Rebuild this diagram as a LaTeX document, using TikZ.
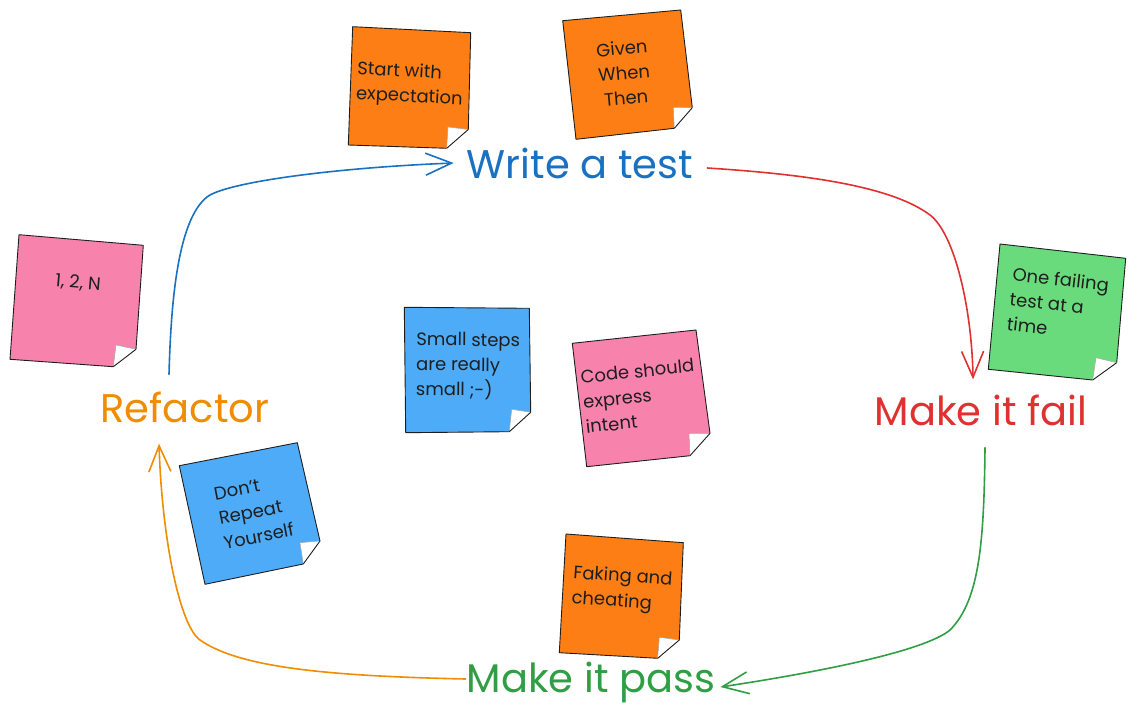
\documentclass[tikz,border=0pt]{standalone}
\usepackage{fontspec}
\setmainfont{Poppins}
\usetikzlibrary{arrows.meta}
\definecolor{cblue}{HTML}{1971C2}
\definecolor{cred}{HTML}{E03131}
\definecolor{cgreen}{HTML}{2F9E44}
\definecolor{corange}{HTML}{F08C00}
\definecolor{ink}{HTML}{1E1E1E}
\definecolor{nOrange}{HTML}{FD7E14}
\definecolor{nPink}{HTML}{F783AC}
\definecolor{nGreen}{HTML}{69DB7C}
\definecolor{nBlue}{HTML}{4DABF7}
\newcommand\stickynote[7]{%
  \fill[#1] #2 -- #3 -- #4 -- #6 -- #7 -- cycle;
  \draw[noteedge] #4 -- #3 -- #2 -- #7 -- #6;
  \fill[white] #4 -- #5 -- #6 -- cycle;
  \draw[foldedge] #4 -- #5 -- #6;
  \draw[noteedge] #4 -- #6;
}
\begin{document}
\begin{tikzpicture}[x=1pt,y=-1pt,
  noteedge/.style={draw=ink,line width=0.9pt,line join=round},
  foldedge/.style={draw=gray!70,line width=0.5pt},
  notetext/.style={text=ink,font=\fontsize{18}{25}\selectfont,inner sep=0pt},
  lbl/.style={font=\fontsize{40}{46}\selectfont,inner sep=0pt},
  flow/.style={line width=1.6pt,line cap=round,line join=round,
    -{Straight Barb[length=26pt,width=22pt,line width=1.6pt]}}]
\useasboundingbox (0,0) rectangle (1135,714);

% sticky notes
\stickynote{nOrange}{(352.7,26.7)}{(470.7,32.7)}{(468.3,129.5)}{(448,127)}{(446.7,148.3)}{(348.3,145)}
\stickynote{nOrange}{(562.7,20.7)}{(680.7,10)}{(692.3,107.7)}{(673.3,107.3)}{(674.3,128.3)}{(576,139.3)}
\stickynote{nPink}{(19,234.7)}{(143.3,245.3)}{(136,349.3)}{(116,345)}{(113.3,366.7)}{(10,359.3)}
\stickynote{nBlue}{(179.3,465.7)}{(297.3,442.7)}{(320,541)}{(300,542.7)}{(303.3,564)}{(205,584.3)}
\stickynote{nGreen}{(1000,244)}{(1125.7,258.3)}{(1116.7,362.7)}{(1096,357.7)}{(1092.7,380)}{(988.3,369.3)}
\stickynote{nBlue}{(404.3,307.3)}{(529.3,308.3)}{(530.7,412.3)}{(511.7,409.3)}{(509.3,431.7)}{(405.7,432.7)}
\stickynote{nPink}{(572.3,343.3)}{(696,330)}{(710,433.3)}{(689,433.3)}{(690,455.7)}{(586.7,466.7)}
\stickynote{nOrange}{(566,534)}{(683.3,542.7)}{(679.3,640)}{(659.3,637.3)}{(657.7,658.3)}{(559.3,652.7)}

% note texts
\node[notetext,align=left,rotate=-3] (t1) at (410,85) {Start with\\expectation};
\node[notetext,align=center,rotate=5] (t2) at (624,73) {Given\\When\\Then};
\node[notetext,rotate=-5] (t3) at (78,283) {1, 2, N};
\node[notetext,align=left,rotate=11] (t4) at (254,512) {Don't\\Repeat\\Yourself};
\node[notetext,align=left,rotate=-6.5] (t5) at (1058,304) {One failing\\test at a\\time};
\node[notetext,align=left,rotate=-0.5] (t6) at (468,366) {Small steps\\are really\\small ;-)};
\node[notetext,align=left,rotate=6] (t7) at (640,396) {Code should\\express\\intent};
\node[notetext,align=left,rotate=-4] (t8) at (622,590) {Faking and\\cheating};

% step labels
\node[lbl,text=cblue] (write) at (580,163) {Write a test};
\node[lbl,text=cred] (fail) at (981,410) {Make it fail};
\node[lbl,text=cgreen] (pass) at (591,682) {Make it pass};
\node[lbl,text=corange] (refactor) at (185,407) {Refactor};

% cycle arrows
\draw[flow,draw=cblue] ([xshift=-16pt,yshift=17pt]refactor.north)
  .. controls (171,300) and (178,220) .. (207,197)
  .. controls (225,182.7) and (330,168) .. ([xshift=-13pt]write.west);
\draw[flow,draw=cred] ([xshift=14pt,yshift=-5pt]write.east)
  .. controls (800,174) and (890,185) .. (930,215)
  .. controls (955,234) and (972,310) .. ([xshift=-8pt,yshift=15pt]fail.north);
\draw[flow,draw=cgreen] ([xshift=4pt,yshift=-22pt]fail.south)
  .. controls (984,540) and (980,600) .. (950,630)
  .. controls (925,651) and (820,672) .. ([xshift=5pt,yshift=-5pt]pass.east);
\draw[flow,draw=corange] ([xshift=-1pt,yshift=3pt]pass.west)
  .. controls (330,676) and (240,668) .. (200,640)
  .. controls (180,626) and (162,540) .. ([xshift=-26pt,yshift=-21pt]refactor.south);
\end{tikzpicture}
\end{document}
